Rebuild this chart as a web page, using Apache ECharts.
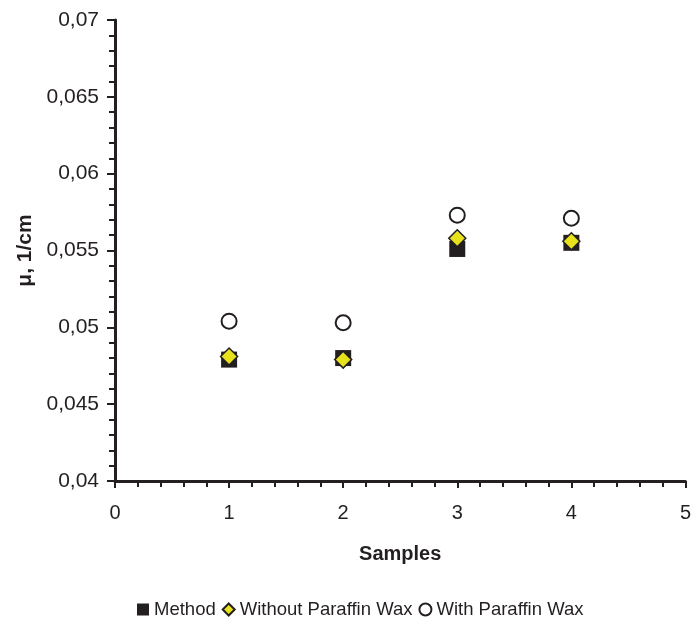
<!DOCTYPE html>
<html>
<head>
<meta charset="utf-8">
<script src="https://cdn.jsdelivr.net/npm/echarts@6/dist/echarts.min.js"></script>
<style>
  html, body { margin: 0; padding: 0; background: #fff; }
</style>
</head>
<body>
<div id="chart" style="width: 694px; height: 620px"></div>
<script>
var samples = [1, 2, 3, 4];
var methodVals = [0.0479, 0.0480, 0.0551, 0.0555];
var withoutWax = [0.0481, 0.0479, 0.0558, 0.0556];
var withWax = [0.0504, 0.0503, 0.0573, 0.0571];

function pairs(ys) {
  var out = [];
  for (var i = 0; i < samples.length; i++) {
    out.push([samples[i], ys[i]]);
  }
  return out;
}

var ink = "#231f20";
var yellow = "#e8e21c";
var font = "Liberation Sans, Arial, sans-serif";

var chart = echarts.init(document.getElementById("chart"));
var option = {
  animation: false,
  textStyle: { fontFamily: font },
  grid: { left: 115, right: 8, top: 20, bottom: 139 },
  legend: {
    left: 132,
    top: 595,
    itemGap: 6,
    itemWidth: 12,
    itemHeight: 12,
    textStyle: { fontSize: 18.5, color: ink, fontFamily: font },
    data: [
      { name: "Method", icon: "rect" },
      { name: "Without Paraffin Wax", icon: "diamond" },
      { name: "With Paraffin Wax", icon: "circle" },
    ],
  },
  xAxis: {
    type: "value",
    min: 0,
    max: 5,
    interval: 1,
    name: "Samples",
    nameLocation: "middle",
    nameGap: 63,
    nameTextStyle: { fontSize: 20, fontWeight: "bold", color: ink },
    axisLine: { show: true, lineStyle: { color: ink, width: 3 } },
    axisTick: { show: true, length: 7, lineStyle: { color: ink, width: 2 } },
    minorTick: { show: true, splitNumber: 5, length: 6, lineStyle: { color: ink, width: 2 } },
    axisLabel: { fontSize: 20, color: ink, margin: 22 },
    splitLine: { show: false },
  },
  yAxis: {
    type: "value",
    min: 0.04,
    max: 0.07,
    interval: 0.005,
    name: "μ, 1/cm",
    nameLocation: "middle",
    nameGap: 77,
    nameTextStyle: { fontSize: 21, fontWeight: "bold", color: ink },
    axisLine: { show: true, lineStyle: { color: ink, width: 3 } },
    axisTick: { show: true, length: 8, lineStyle: { color: ink, width: 2 } },
    minorTick: { show: true, splitNumber: 5, length: 6, lineStyle: { color: ink, width: 2 } },
    axisLabel: {
      fontSize: 21,
      color: ink,
      margin: 16,
      formatter: function (v) {
        return String(+v.toFixed(3)).replace(".", ",");
      },
    },
    splitLine: { show: false },
  },
  series: [
    {
      name: "Method",
      type: "scatter",
      symbol: "rect",
      symbolSize: 16,
      itemStyle: { color: ink, opacity: 1 },
      data: pairs(methodVals),
    },
    {
      name: "Without Paraffin Wax",
      type: "scatter",
      symbol: "diamond",
      symbolSize: 17,
      itemStyle: { color: yellow, borderColor: ink, borderWidth: 1.5, opacity: 1 },
      data: pairs(withoutWax),
    },
    {
      name: "With Paraffin Wax",
      type: "scatter",
      symbol: "circle",
      symbolSize: 15,
      itemStyle: { color: "#fff", borderColor: ink, borderWidth: 2, opacity: 1 },
      data: pairs(withWax),
    },
  ],
};
chart.setOption(option);
</script>
</body>
</html>
